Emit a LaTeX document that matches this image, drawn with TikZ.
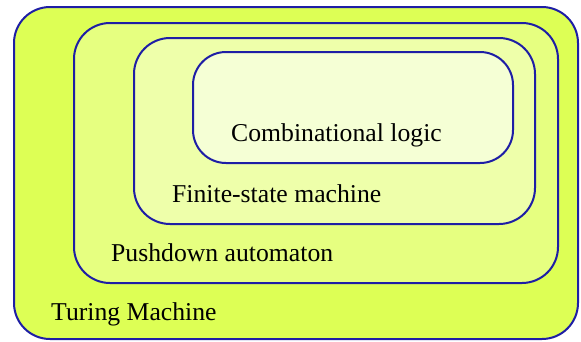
\documentclass[tikz,border=0pt]{standalone}
\usepackage{fontspec}
\setmainfont{Liberation Serif}
\definecolor{tmfill}{RGB}{221,255,85}
\definecolor{pdafill}{RGB}{230,255,128}
\definecolor{fsmfill}{RGB}{238,255,170}
\definecolor{clfill}{RGB}{245,255,213}
\definecolor{edge}{RGB}{30,30,165}
\tikzset{
  levelbox/.style={draw=edge, line width=2pt, rounded corners=36pt},
  levellabel/.style={anchor=base west, inner sep=0pt, font=\fontsize{25.7}{30}\selectfont, text=black}
}
\begin{document}
\begin{tikzpicture}[x=1pt,y=-1pt]
\useasboundingbox (0,0) rectangle (581,341);
\fill[white] (0,0) rectangle (581,341);
% nested classes of automata, outermost first
\draw[levelbox, fill=tmfill]  (14,7)   rectangle (578,339);
\draw[levelbox, fill=pdafill] (74,23)  rectangle (558,283);
\draw[levelbox, fill=fsmfill] (134,38) rectangle (535,224);
\draw[levelbox, fill=clfill, rounded corners=33pt] (193,52) rectangle (513,163);
% labels
\node[levellabel] (cl)  at (231,141) {Combinational logic};
\node[levellabel] (fsm) at (172,202) {Finite-state machine};
\node[levellabel] (pda) at (111,261) {Pushdown automaton};
\node[levellabel] (tm)  at (51,320)  {Turing Machine};
\end{tikzpicture}
\end{document}
